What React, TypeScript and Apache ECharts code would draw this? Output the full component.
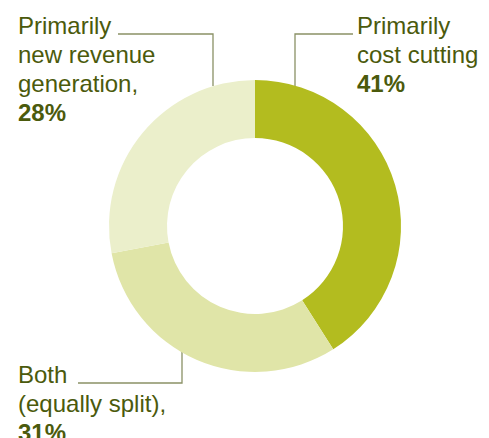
import React, { useEffect, useRef } from "react";
import * as echarts from "echarts";

const categories = ["Primarily cost cutting", "Both (equally split)", "Primarily new revenue generation"];
const values = [41, 31, 28];
const labelLines = [
  ["Primarily", "cost cutting"],
  ["Both", "(equally split),"],
  ["Primarily", "new revenue", "generation,"],
];
const colors = ["#b3bc1f", "#e0e5a8", "#ebefcb"];

const labelPos = [
  { x: 357, y: 11, line: [[295, 86], [295, 34], [353, 34]] },
  { x: 18, y: 360, line: [[182, 352], [182, 383], [78, 383]] },
  { x: 18, y: 11, line: [[213, 86], [213, 34], [118, 34]] },
];

export default function App() {
  const ref = useRef<HTMLDivElement>(null);
  useEffect(() => {
    if (!ref.current) return;
    const chart = echarts.init(ref.current, null, { renderer: "svg" });
    chart.setOption({
      animation: false,
      backgroundColor: "#ffffff",
      series: [
        {
          type: "pie",
          silent: true,
          center: [255, 226],
          radius: [88, 146],
          startAngle: 90,
          clockwise: true,
          emphasis: { disabled: true },
          itemStyle: { borderWidth: 0 },
          data: values.map((v, i) => ({
            name: categories[i],
            value: v,
            itemStyle: { color: colors[i] },
          })),
          label: {
            show: true,
            position: "outside",
            overflow: "none",
            width: 300,
            formatter: (p: any) =>
              labelLines[p.dataIndex].map((l) => `{a|${l}}`).join("\n") + `\n{b|${p.value}%}`,
            rich: {
              a: {
                fontFamily: "Liberation Sans, Arial, sans-serif",
                fontSize: 24,
                lineHeight: 29,
                color: "#4b5a0c",
              },
              b: {
                fontFamily: "Liberation Sans, Arial, sans-serif",
                fontSize: 24,
                fontWeight: "bold",
                lineHeight: 29,
                color: "#4b5a0c",
              },
            },
          },
          labelLine: {
            show: true,
            lineStyle: { color: "#8a9166", width: 1.3 },
          },
          labelLayout: (params: any) => {
            const p = labelPos[params.dataIndex];
            return {
              x: p.x,
              y: p.y,
              align: "left",
              verticalAlign: "top",
              labelLinePoints: p.line,
            };
          },
        },
      ],
    });
    return () => chart.dispose();
  }, []);
  return (
    <div
      ref={ref}
      style={{ position: "fixed", left: 0, top: 0, width: 489, height: 438 }}
    />
  );
}
